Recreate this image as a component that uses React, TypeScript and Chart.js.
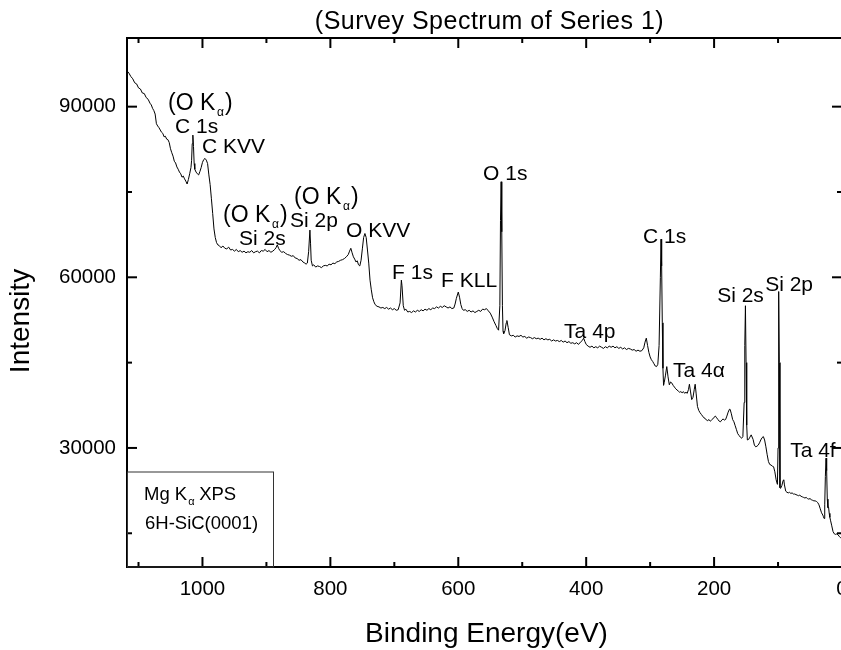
import React, { useEffect, useRef } from 'react';
import { Chart, registerables } from 'chart.js';

Chart.register(...registerables);

const FONT = "'Liberation Sans', Arial, Helvetica, sans-serif";

// Survey spectrum: [binding energy (eV), intensity (counts)]
const surveyPoints: [number, number][] = [
  [1118, 96300], [1115, 95900], [1112, 95300], [1109, 94900], [1106, 94200], [1103, 94000], [1100, 93300], [1097, 93100],
  [1094, 92400], [1091, 92300], [1088, 91600], [1085, 91300], [1082, 90600], [1080, 90300], [1078, 89700], [1076, 89300],
  [1074, 88700], [1072, 87000], [1070, 86600], [1068, 86300], [1066, 85900], [1064, 85500], [1062, 85300], [1060, 84700],
  [1058, 84800], [1056, 84300], [1054, 84200], [1052, 83700], [1050, 82600], [1048, 81900], [1046, 81300], [1044, 80400],
  [1042, 80100], [1040, 79400], [1038, 79000], [1036, 78500], [1034, 78200], [1032, 77600], [1030, 77800], [1028, 77300],
  [1026, 76900], [1024, 76400], [1022, 77200], [1020, 78200], [1018, 79300], [1017, 80500], [1016, 83500], [1015, 85000],
  [1014, 83000], [1013, 80000], [1012, 79000], [1010, 78500], [1008, 78200], [1006, 78000], [1004, 78600], [1002, 79300],
  [1000, 80200], [998, 80700], [996, 80900], [994, 80600], [992, 80000], [990, 78000], [988, 76300], [986, 73800],
  [984, 71200], [982, 68500], [980, 67000], [978, 66100], [976, 65700], [974, 65600], [971, 65200], [968, 65500],
  [965, 65100], [962, 65000], [959, 65300], [956, 64800], [953, 64900], [950, 64600], [947, 64900], [944, 64500],
  [941, 64700], [938, 64400], [935, 64600], [932, 64300], [929, 64500], [926, 64400], [923, 64700], [920, 64300],
  [917, 64500], [914, 64600], [911, 64300], [908, 64700], [905, 64600], [902, 64900], [899, 64500], [896, 64700],
  [893, 64400], [890, 64600], [887, 64900], [885, 65200], [883, 65700], [881, 65100], [879, 64700], [876, 64400],
  [873, 64500], [870, 64200], [867, 64000], [864, 63900], [861, 63700], [858, 63800], [855, 63400], [852, 63300],
  [849, 63000], [846, 63100], [843, 62700], [840, 62500], [838, 62300], [836, 62500], [834, 64500], [832, 68300],
  [831, 66000], [830, 63000], [828, 62000], [826, 62200], [823, 61800], [820, 62000], [817, 61900], [814, 61700],
  [811, 62000], [808, 62100], [805, 62000], [802, 62300], [799, 62200], [796, 62500], [793, 62400], [790, 62700],
  [787, 62800], [784, 63000], [781, 63100], [778, 63300], [775, 63600], [772, 64000], [770, 64600], [768, 65100],
  [766, 64300], [764, 63600], [762, 63200], [760, 62700], [758, 62900], [756, 62200], [754, 62000], [752, 63000],
  [750, 65000], [748, 67000], [746, 67700], [744, 67000], [742, 64800], [740, 62500], [738, 59500], [736, 57800],
  [734, 56400], [732, 55700], [730, 55200], [727, 54900], [724, 54800], [721, 54600], [718, 54700], [715, 54500],
  [712, 54700], [709, 54400], [706, 54600], [703, 54300], [700, 54500], [697, 54200], [694, 54300], [691, 55500],
  [689, 59500], [688, 58500], [686, 55000], [684, 54200], [682, 54400], [679, 53900], [676, 54000], [673, 53800],
  [670, 54100], [667, 53900], [664, 54200], [661, 54000], [658, 54300], [655, 54100], [652, 54400], [649, 54200],
  [646, 54500], [643, 54300], [640, 54600], [637, 54500], [634, 54800], [631, 54600], [628, 54900], [625, 54700],
  [622, 55000], [619, 54800], [616, 54600], [613, 54800], [610, 54500], [607, 54600], [605, 55300], [603, 56300],
  [600, 57400], [598, 56500], [596, 55200], [594, 54500], [592, 54200], [589, 54300], [586, 54000], [583, 54200],
  [580, 53900], [577, 54100], [574, 53800], [571, 54000], [568, 54200], [565, 54000], [562, 54400], [559, 54300],
  [556, 54500], [553, 54100], [550, 53700], [547, 53000], [544, 52200], [541, 51500], [539, 51000], [537, 50700],
  [535, 55000], [534, 70000], [533, 76800], [532, 68000], [531, 55000], [530, 50500], [529, 50100], [527, 50600],
  [525, 52000], [524, 52400], [522, 51200], [520, 49900], [517, 49700], [514, 49800], [511, 49500], [508, 49700],
  [505, 49600], [502, 49800], [499, 49500], [496, 49600], [493, 49300], [490, 49500], [487, 49400], [484, 49200],
  [481, 49400], [478, 49200], [475, 49300], [472, 49100], [469, 49300], [466, 49000], [463, 49200], [460, 49000],
  [457, 49100], [454, 48800], [451, 49000], [448, 48800], [445, 48900], [442, 48700], [439, 48900], [436, 48600],
  [433, 48800], [430, 48500], [427, 48700], [424, 48400], [421, 48500], [418, 48300], [415, 48500], [412, 48200],
  [409, 48600], [406, 48900], [404, 49300], [402, 48700], [400, 48200], [397, 47900], [394, 47700], [391, 47900],
  [388, 47600], [385, 47800], [382, 47600], [379, 47900], [376, 47700], [373, 47500], [370, 47800], [367, 47600],
  [364, 47900], [361, 47700], [358, 47900], [355, 47600], [352, 47800], [349, 47500], [346, 47700], [343, 47400],
  [340, 47600], [337, 47300], [334, 47500], [331, 47400], [328, 47200], [325, 47300], [322, 47000], [319, 47200],
  [316, 47000], [313, 47100], [310, 47600], [308, 48600], [306, 49300], [304, 48000], [302, 46800], [300, 46000],
  [298, 45500], [296, 45200], [294, 44800], [292, 44400], [290, 44300], [288, 44700], [286, 48000], [284, 60000],
  [283, 66700], [282, 62000], [281, 52000], [280, 44000], [279, 41000], [278, 41500], [276, 42800], [274, 44300],
  [272, 42500], [270, 41100], [268, 41600], [266, 41400], [264, 41000], [262, 40700], [260, 40400], [258, 40200],
  [256, 40000], [254, 39800], [252, 39900], [250, 39700], [248, 39900], [246, 39600], [244, 39800], [242, 39600],
  [240, 40300], [238.6, 41200], [237, 40000], [235, 38500], [233, 38900], [231, 40300], [229.6, 41200], [228, 39500],
  [226, 37300], [224, 36600], [222, 36200], [220, 35900], [218, 35600], [216, 35300], [214, 35200], [212, 34900],
  [210, 34800], [208, 35000], [206, 34700], [204, 34900], [202, 35100], [200, 35400], [198, 35600], [196, 35300],
  [194, 35000], [192, 34700], [190, 34600], [188, 34900], [186, 35100], [184, 34900], [182, 35000], [180, 35600],
  [178, 36300], [176, 36800], [175, 36800], [173, 36000], [171, 35000], [169, 34600], [167, 33900], [165, 33200],
  [163, 32500], [161, 32200], [159, 31900], [157, 31700], [155, 32000], [153, 38000], [152, 48000], [151, 55000],
  [150, 45000], [149, 34000], [148, 31400], [146, 31500], [144, 31900], [142, 32300], [141, 32300], [139, 31500],
  [137, 30500], [135, 30200], [133, 30300], [131, 30500], [129, 30900], [127, 31400], [125, 31800], [123, 32000],
  [121, 31400], [119, 30200], [117, 28800], [115, 27600], [113, 27100], [111, 27000], [109, 26800], [107, 26700],
  [105, 25800], [103, 24400], [101, 23600], [100, 30000], [99, 57500], [98, 45000], [97, 23000], [96, 22900],
  [94, 23400], [92, 24300], [91, 24400], [90, 23500], [88, 22400], [86, 22200], [84, 22100], [82, 22200],
  [80, 22000], [78, 22100], [76, 21900], [74, 21900], [72, 21800], [70, 21700], [68, 21600], [66, 21700],
  [64, 21500], [62, 21400], [60, 21300], [58, 21200], [56, 21300], [54, 21100], [52, 21000], [50, 21100],
  [48, 20900], [46, 20800], [44, 20700], [42, 20700], [40, 20600], [38, 20400], [36, 20000], [34, 19300],
  [32, 18600], [30, 18200], [29, 17900], [28, 17600], [27, 20000], [26, 25000], [25, 28200], [24, 26000],
  [23, 21000], [22, 19500], [21, 19600], [20, 18500], [19, 17800], [18, 17300], [16, 16300], [14, 15300],
  [12, 14900], [10, 14800], [8, 14900], [6, 14700], [4, 14400], [2, 14200], [0, 14000],
];

const xMajorTicks = [1000, 800, 600, 400, 200, 0];
const xMinorTicks = [1100, 900, 700, 500, 300, 100];
const yMajorTicks = [30000, 60000, 90000];
const yMinorTicks = [15000, 45000, 75000];

const xRange = [0, 1118];
const yRange = [9070, 102070];

// Peak annotations: text, anchor energy (eV), anchor intensity
const peakText = ['C 1s', 'C KVV', 'Si 2s', 'Si 2p', 'O KVV', 'F 1s', 'F KLL', 'O 1s', 'Ta 4p', 'C 1s', 'Si 2s', 'Si 2p', 'Ta 4\u03b1', 'Ta 4f'];
const peakE = [1042.9, 1000.7, 942.8, 863.1, 775.5, 703.5, 626.9, 561.2, 434.5, 311, 195.2, 120.2, 264.1, 81.1];
const peakI = [85368, 81852, 65678, 68843, 67085, 59701, 58295, 77105, 49329, 66030, 55658, 57592, 42473, 28409];

// "(O Kα)" ghost-line annotations: anchor energy, intensity
const ghostE = [1053.9, 967.9, 856.8];
const ghostI = [89411, 69722, 72886];

const titleText = '(Survey Spectrum of Series 1)';
const xTitle = 'Binding Energy(eV)';
const yTitle = 'Intensity';
const legendLines = ['Mg K', '6H-SiC(0001)'];

const decorPlugin = {
  id: 'decor',
  afterDraw(chart: any) {
    const { ctx, chartArea: a, scales } = chart;
    const xs = scales.x;
    const ys = scales.y;
    ctx.save();
    ctx.strokeStyle = '#000';
    ctx.fillStyle = '#000';
    ctx.lineWidth = 2;
    ctx.strokeRect(a.left, a.top, a.right - a.left, a.bottom - a.top);
    const seg = (x1: number, y1: number, x2: number, y2: number) => {
      ctx.beginPath();
      ctx.moveTo(x1, y1);
      ctx.lineTo(x2, y2);
      ctx.stroke();
    };
    const drawX = (vals: number[], len: number) => {
      vals.forEach((v) => {
        const p = xs.getPixelForValue(v);
        seg(p, a.bottom, p, a.bottom - len);
        seg(p, a.top, p, a.top + len);
      });
    };
    const drawY = (vals: number[], len: number) => {
      vals.forEach((v) => {
        const p = ys.getPixelForValue(v);
        seg(a.left, p, a.left + len, p);
        seg(a.right, p, a.right - len, p);
      });
    };
    drawX(xMajorTicks, 10);
    drawX(xMinorTicks, 5);
    drawY(yMajorTicks, 10);
    drawY(yMinorTicks, 5);

    // legend box
    ctx.lineWidth = 1;
    ctx.strokeStyle = '#333';
    ctx.strokeRect(a.left + 0.5, a.bottom - 95, 146, 95);
    ctx.font = `18.5px ${FONT}`;
    ctx.textAlign = 'left';
    ctx.textBaseline = 'alphabetic';
    const lx = a.left + 17;
    ctx.fillText(legendLines[0], lx, a.bottom - 67);
    const w0 = ctx.measureText(legendLines[0]).width;
    ctx.font = `11px ${FONT}`;
    ctx.fillText('\u03b1', lx + w0 + 1, a.bottom - 62);
    ctx.font = `18.5px ${FONT}`;
    ctx.fillText('XPS', lx + w0 + 12, a.bottom - 67);
    ctx.fillText(legendLines[1], lx + 1, a.bottom - 38);

    // peak labels
    ctx.font = `21px ${FONT}`;
    peakText.forEach((t, i) => {
      ctx.fillText(t, xs.getPixelForValue(peakE[i]), ys.getPixelForValue(peakI[i]));
    });
    ghostE.forEach((e, i) => {
      const x = xs.getPixelForValue(e);
      const y = ys.getPixelForValue(ghostI[i]);
      ctx.font = `23px ${FONT}`;
      ctx.fillText('(O K', x, y);
      ctx.fillText(')', x + 57, y);
      ctx.font = `12px ${FONT}`;
      ctx.fillText('\u03b1', x + 49, y + 6);
    });

    // title
    ctx.font = `25px ${FONT}`;
    ctx.textAlign = 'center';
    (ctx as any).letterSpacing = '0.5px';
    ctx.fillText(titleText, (a.left + a.right) / 2 + 5, 29);
    (ctx as any).letterSpacing = '0px';

    // axis titles
    ctx.font = `28px ${FONT}`;
    ctx.fillText(xTitle, (a.left + a.right) / 2 + 2, 642);
    ctx.save();
    ctx.translate(29, 321);
    ctx.rotate(-Math.PI / 2);
    ctx.fillText(yTitle, 0, 0);
    ctx.restore();
    ctx.restore();
  },
};

export default function App() {
  const canvasRef = useRef<HTMLCanvasElement | null>(null);

  useEffect(() => {
    if (!canvasRef.current) return;
    const chart = new Chart(canvasRef.current, {
      type: 'line',
      data: {
        datasets: [
          {
            data: surveyPoints.map(([e, c]) => ({ x: e, y: c })),
            borderColor: '#000',
            borderWidth: 1,
            pointRadius: 0,
            fill: false,
            tension: 0,
          },
        ],
      },
      options: {
        animation: false,
        responsive: false,
        devicePixelRatio: 1,
        layout: { padding: { left: 0, top: 38, right: 18, bottom: 0 } },
        plugins: {
          legend: { display: false },
          tooltip: { enabled: false },
          title: { display: false },
        },
        scales: {
          x: {
            type: 'linear',
            reverse: true,
            min: xRange[0],
            max: xRange[1],
            grid: { display: false, drawTicks: false },
            border: { display: false },
            afterBuildTicks: (s: any) => {
              s.ticks = xMajorTicks.map((v) => ({ value: v }));
            },
            afterFit: (s: any) => {
              s.height = 83;
            },
            ticks: {
              color: '#000',
              font: { family: FONT, size: 20.5 },
              padding: 10,
              maxRotation: 0,
              autoSkip: false,
              callback: (v: any) => String(v),
            },
          },
          y: {
            type: 'linear',
            min: yRange[0],
            max: yRange[1],
            grid: { display: false, drawTicks: false },
            border: { display: false },
            afterBuildTicks: (s: any) => {
              s.ticks = yMajorTicks.map((v) => ({ value: v }));
            },
            afterFit: (s: any) => {
              s.width = 127;
            },
            ticks: {
              color: '#000',
              font: { family: FONT, size: 20.5 },
              padding: 11,
              autoSkip: false,
              callback: (v: any) => String(v),
            },
          },
        },
      },
      plugins: [decorPlugin],
    } as any);
    return () => chart.destroy();
  }, []);

  return (
    <div
      style={{
        position: 'absolute',
        left: 0,
        top: 0,
        width: 841,
        height: 650,
        overflow: 'hidden',
        background: '#fff',
      }}
    >
      <canvas ref={canvasRef} width={860} height={650} style={{ width: 860, height: 650, display: 'block' }} />
    </div>
  );
}
